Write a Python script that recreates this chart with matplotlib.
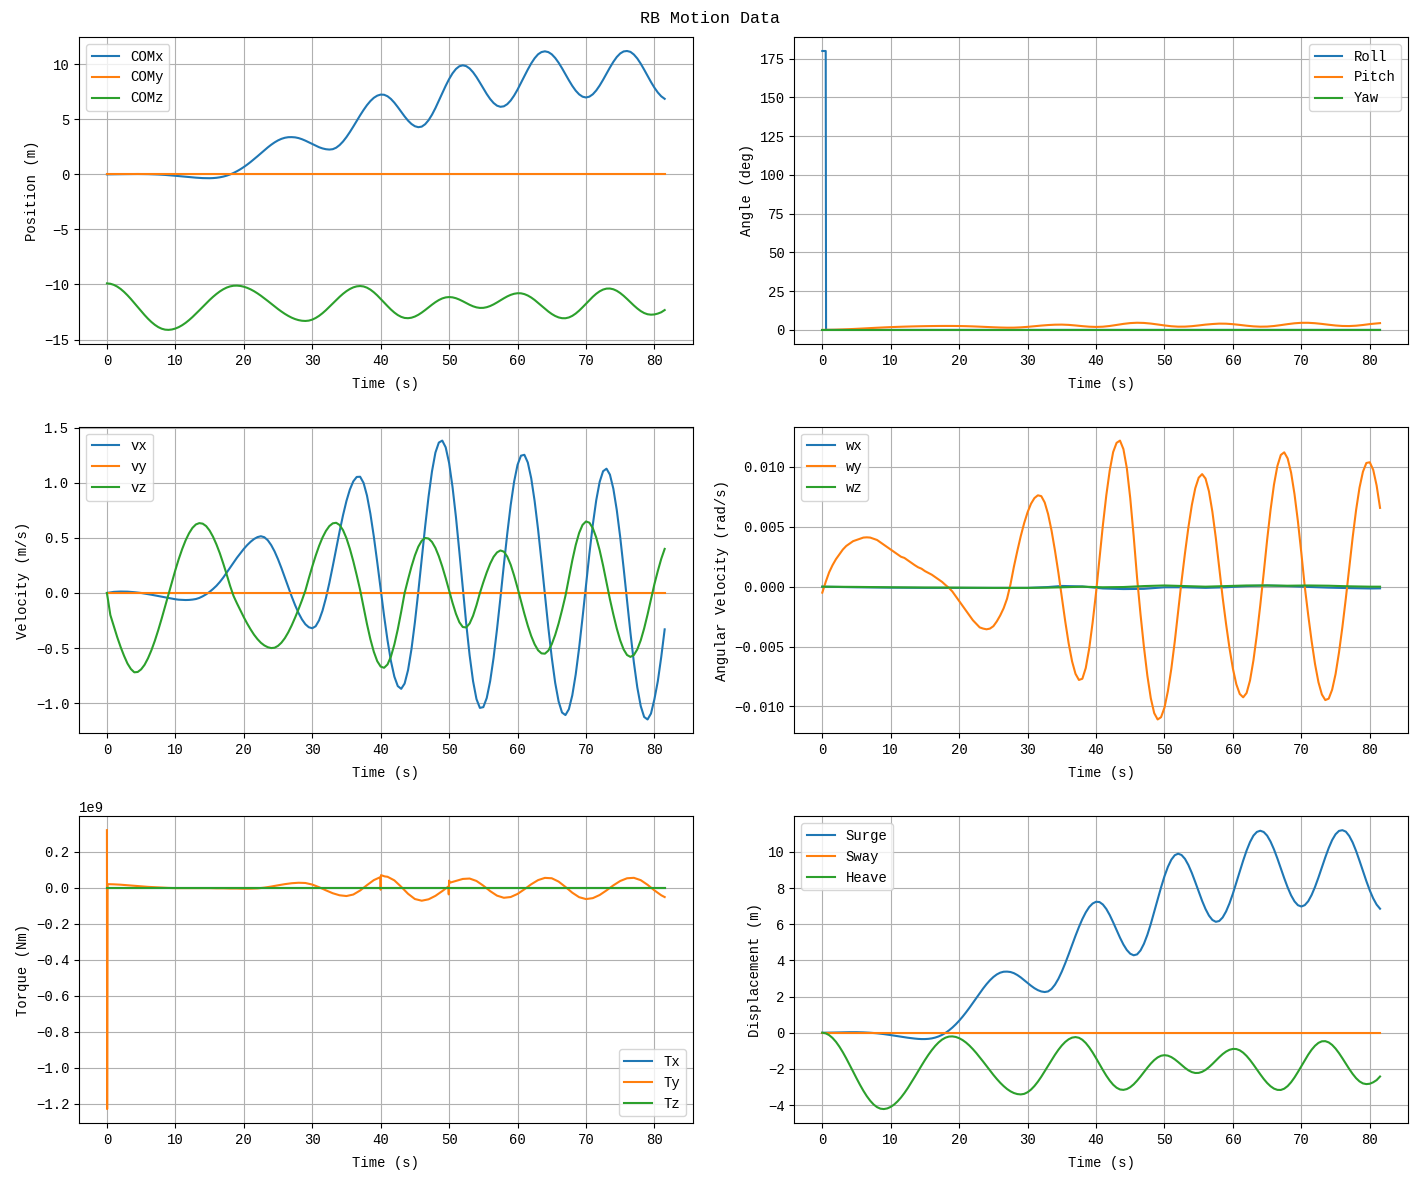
import numpy as np
import matplotlib
matplotlib.use("Agg")
import matplotlib.pyplot as plt

plt.rcParams['font.family'] = ['Liberation Mono', 'DejaVu Sans']
plt.rcParams['font.size'] = 10

# ---------------- data ----------------
# sample time grids
t_fine = np.arange(0, 82, 0.5)                      # 0 .. 81.5 s, 0.5 s step
t_coarse = np.append(np.arange(0, 82, 1.0), 81.5)   # 0 .. 81 s plus 81.5 s
t_const = [0.0, 81.5]

com_x = [0.0, 0.002, 0.005, 0.01, 0.015, 0.02, 0.025, 0.028, 0.03, 0.031,
         0.03, 0.026, 0.02, 0.011, 0.0, -0.014, -0.03, -0.051, -0.075, -0.101,
         -0.13, -0.16, -0.19, -0.22, -0.25, -0.276, -0.30, -0.322, -0.34, -0.35,
         -0.35, -0.338, -0.312, -0.267, -0.204, -0.118, -0.008, 0.126, 0.284, 0.464,
         0.665, 0.887, 1.126, 1.379, 1.643, 1.914, 2.184, 2.445, 2.687, 2.902,
         3.083, 3.224, 3.322, 3.374, 3.38, 3.358, 3.294, 3.191, 3.06, 2.909,
         2.752, 2.599, 2.463, 2.355, 2.282, 2.251, 2.285, 2.42, 2.658, 2.982,
         3.383, 3.842, 4.337, 4.852, 5.362, 5.845, 6.285, 6.657, 6.95, 7.145,
         7.242, 7.227, 7.091, 6.845, 6.508, 6.107, 5.679, 5.257, 4.878, 4.574,
         4.369, 4.283, 4.333, 4.55, 4.918, 5.415, 6.014, 6.68, 7.365, 8.037,
         8.652, 9.172, 9.568, 9.816, 9.9, 9.826, 9.612, 9.27, 8.833, 8.33,
         7.804, 7.293, 6.841, 6.479, 6.236, 6.134, 6.178, 6.373, 6.705, 7.154,
         7.694, 8.295, 8.913, 9.519, 10.074, 10.543, 10.9, 11.104, 11.17, 11.1,
         10.9, 10.57, 10.14, 9.636, 9.09, 8.544, 8.035, 7.598, 7.263, 7.052,
         6.98, 7.055, 7.27, 7.616, 8.065, 8.585, 9.143, 9.70, 10.215, 10.654,
         10.975, 11.16, 11.2, 11.12, 10.88, 10.52, 10.05, 9.51, 8.945, 8.385,
         7.87, 7.43, 7.085, 6.857]
com_y = [0.0, 0.0]
com_z = [-9.9, -9.932, -10.031, -10.189, -10.403, -10.67, -10.977, -11.316, -11.677, -12.046,
         -12.417, -12.773, -13.106, -13.405, -13.661, -13.867, -14.014, -14.099, -14.12, -14.084,
         -13.999, -13.869, -13.694, -13.481, -13.232, -12.956, -12.657, -12.347, -12.03, -11.716,
         -11.409, -11.123, -10.862, -10.629, -10.434, -10.279, -10.172, -10.112, -10.102, -10.132,
         -10.201, -10.305, -10.442, -10.61, -10.805, -11.02, -11.252, -11.493, -11.742, -11.989,
         -12.23, -12.456, -12.666, -12.851, -13.012, -13.14, -13.234, -13.291, -13.31, -13.28,
         -13.189, -13.042, -12.846, -12.606, -12.332, -12.034, -11.725, -11.416, -11.118, -10.844,
         -10.604, -10.408, -10.261, -10.17, -10.14, -10.178, -10.289, -10.467, -10.705, -10.988,
         -11.304, -11.634, -11.961, -12.272, -12.546, -12.774, -12.939, -13.037, -13.059, -13.015,
         -12.91, -12.752, -12.55, -12.321, -12.075, -11.832, -11.606, -11.413, -11.265, -11.172,
         -11.14, -11.167, -11.246, -11.369, -11.52, -11.684, -11.843, -11.979, -12.077, -12.126,
         -12.12, -12.061, -11.954, -11.806, -11.63, -11.441, -11.253, -11.081, -10.941, -10.843,
         -10.794, -10.801, -10.872, -11.002, -11.183, -11.407, -11.662, -11.93, -12.198, -12.453,
         -12.677, -12.858, -12.989, -13.059, -13.064, -12.993, -12.849, -12.638, -12.374, -12.07,
         -11.748, -11.422, -11.115, -10.841, -10.619, -10.46, -10.374, -10.366, -10.434, -10.573,
         -10.775, -11.026, -11.311, -11.611, -11.906, -12.178, -12.413, -12.591, -12.702, -12.74,
         -12.72, -12.64, -12.52, -12.32]

t_roll = [0.0, 0.5, 0.55, 81.5]
roll = [180.0, 180.0, 0.0, 0.0]
pitch = [0.0, 0.02, 0.12, 0.275, 0.467, 0.68, 0.91, 1.146, 1.375, 1.587,
         1.776, 1.942, 2.089, 2.215, 2.318, 2.402, 2.468, 2.514, 2.535, 2.528,
         2.482, 2.39, 2.253, 2.075, 1.875, 1.679, 1.516, 1.415, 1.432, 1.622,
         1.949, 2.358, 2.773, 3.122, 3.343, 3.395, 3.218, 2.848, 2.41, 2.055,
         1.901, 2.047, 2.514, 3.18, 3.863, 4.383, 4.598, 4.474, 4.07, 3.483,
         2.86, 2.348, 2.076, 2.101, 2.391, 2.864, 3.389, 3.769, 4.037, 3.984,
         3.679, 3.206, 2.692, 2.273, 2.062, 2.129, 2.495, 3.069, 3.706, 4.249,
         4.559, 4.566, 4.304, 3.846, 3.309, 2.825, 2.517, 2.464, 2.693, 3.151,
         3.723, 4.15, 4.35]
yaw = [0.0, 0.0]

vx = [0.000, 0.005, 0.010, 0.012, 0.013, 0.013, 0.012, 0.010, 0.007, 0.004,
      0.000, -0.005, -0.010, -0.016, -0.022, -0.028, -0.034, -0.040, -0.046, -0.052,
      -0.057, -0.061, -0.063, -0.064, -0.063, -0.060, -0.055, -0.045, -0.030, -0.012,
      0.010, 0.036, 0.065, 0.100, 0.140, 0.185, 0.230, 0.275, 0.320, 0.360,
      0.400, 0.435, 0.465, 0.490, 0.507, 0.515, 0.506, 0.479, 0.435, 0.377,
      0.306, 0.226, 0.141, 0.054, -0.032, -0.111, -0.182, -0.240, -0.284, -0.311,
      -0.320, -0.302, -0.248, -0.161, -0.046, 0.091, 0.243, 0.402, 0.559, 0.706,
      0.835, 0.939, 1.013, 1.053, 1.055, 0.999, 0.884, 0.718, 0.512, 0.279,
      0.033, -0.208, -0.429, -0.618, -0.759, -0.845, -0.870, -0.822, -0.700, -0.510,
      -0.267, 0.012, 0.310, 0.604, 0.875, 1.104, 1.274, 1.365, 1.383, 1.322,
      1.180, 0.962, 0.689, 0.373, 0.043, -0.278, -0.566, -0.800, -0.963, -1.043,
      -1.036, -0.953, -0.800, -0.588, -0.329, -0.044, 0.254, 0.539, 0.798, 1.010,
      1.163, 1.246, 1.254, 1.184, 1.041, 0.833, 0.577, 0.287, -0.016, -0.315,
      -0.586, -0.815, -0.984, -1.085, -1.108, -1.055, -0.929, -0.739, -0.498, -0.223,
      0.068, 0.356, 0.620, 0.842, 1.008, 1.105, 1.128, 1.074, 0.946, 0.753,
      0.508, 0.227, -0.069, -0.362, -0.631, -0.857, -1.026, -1.125, -1.148, -1.094,
      -0.964, -0.800, -0.580, -0.330]
vy = [0.0, 0.0]
vz = [0.000, -0.200, -0.300, -0.400, -0.490, -0.570, -0.640, -0.690, -0.720, -0.717,
      -0.693, -0.652, -0.593, -0.520, -0.434, -0.337, -0.232, -0.122, -0.011, 0.101,
      0.208, 0.309, 0.399, 0.478, 0.542, 0.591, 0.622, 0.634, 0.629, 0.607,
      0.567, 0.511, 0.441, 0.360, 0.267, 0.168, 0.064, -0.027, -0.094, -0.158,
      -0.220, -0.278, -0.331, -0.379, -0.419, -0.452, -0.476, -0.492, -0.500, -0.497,
      -0.480, -0.451, -0.410, -0.357, -0.294, -0.223, -0.147, -0.066, 0.022, 0.133,
      0.239, 0.338, 0.427, 0.503, 0.563, 0.607, 0.632, 0.637, 0.617, 0.570,
      0.497, 0.401, 0.288, 0.161, 0.027, -0.129, -0.282, -0.420, -0.534, -0.619,
      -0.668, -0.679, -0.649, -0.577, -0.468, -0.330, -0.170, 0.000, 0.123, 0.239,
      0.340, 0.420, 0.474, 0.499, 0.494, 0.463, 0.409, 0.333, 0.240, 0.135,
      0.023, -0.089, -0.189, -0.266, -0.309, -0.313, -0.277, -0.207, -0.111, 0.000,
      0.097, 0.187, 0.266, 0.328, 0.368, 0.386, 0.375, 0.330, 0.256, 0.158,
      0.046, -0.072, -0.189, -0.297, -0.391, -0.466, -0.520, -0.548, -0.551, -0.523,
      -0.465, -0.381, -0.277, -0.156, -0.026, 0.135, 0.295, 0.435, 0.545, 0.618,
      0.649, 0.638, 0.588, 0.503, 0.388, 0.249, 0.095, -0.057, -0.195, -0.322,
      -0.430, -0.512, -0.563, -0.580, -0.563, -0.512, -0.430, -0.322, -0.195, -0.057,
      0.080, 0.200, 0.310, 0.400]

t_wsmall = [0, 5, 10, 15, 20, 25, 30, 33, 35, 38, 41, 44, 47, 50, 53, 56, 59,
            62, 65, 68, 71, 74, 77, 80, 81.5]
wx = [0.0, -0.00005, -0.00008, -0.0001, -0.0001, -0.0001, -0.0001, -0.00003,
      0.00006, 0.00002, -0.00015, -0.0002, -0.00018, -0.00005, -0.00005, -0.0001,
      -0.00005, 0.00005, 0.0001, 0.00005, -0.00002, -0.00008, -0.00012, -0.00015,
      -0.00014]
wy = [-0.0005, 0.0004, 0.0012, 0.0018, 0.0023, 0.0027, 0.0031, 0.0034, 0.0036, 0.0038,
      0.0039, 0.0040, 0.0041, 0.00412, 0.0041, 0.0040, 0.0039, 0.0037, 0.0035, 0.0033,
      0.0031, 0.0029, 0.0027, 0.0025, 0.0024, 0.0022, 0.0020, 0.0018, 0.00162, 0.0015,
      0.0013, 0.00115, 0.0010, 0.0008, 0.0006, 0.0004, 0.00014, -0.0001, -0.0004, -0.0008,
      -0.0012, -0.0016, -0.0020, -0.0024, -0.0028, -0.0031, -0.0034, -0.0035, -0.00356, -0.0035,
      -0.0033, -0.0029, -0.0024, -0.0018, -0.0010, 0.0002, 0.00167, 0.00299, 0.00422, 0.00531,
      0.00622, 0.00693, 0.0074, 0.00763, 0.00756, 0.00703, 0.00605, 0.00468, 0.00301, 0.00116,
      -0.00085, -0.0029, -0.00474, -0.00624, -0.00728, -0.00779, -0.00769, -0.00679, -0.00517, -0.0030,
      -0.00051, 0.00234, 0.00513, 0.00763, 0.0097, 0.01124, 0.01201, 0.0122, 0.01149, 0.0099,
      0.00738, 0.00422, 0.00072, -0.00231, -0.00504, -0.00743, -0.00931, -0.01056, -0.01109, -0.0109,
      -0.0101, -0.00872, -0.00686, -0.0046, -0.0021, 0.00048, 0.00281, 0.00497, 0.00682, 0.00822,
      0.0091, 0.0094, 0.00903, 0.00796, 0.00626, 0.00408, 0.00157, -0.0009, -0.00311, -0.00513,
      -0.00685, -0.00815, -0.00896, -0.00924, -0.00888, -0.00783, -0.00615, -0.00401, -0.00154, 0.00113,
      0.0039, 0.00641, 0.00852, 0.01008, 0.0110, 0.01122, 0.01071, 0.00953, 0.00773, 0.00545,
      0.00281, 0.0, -0.00235, -0.00454, -0.00646, -0.00798, -0.0090, -0.00947, -0.00935, -0.0086,
      -0.0073, -0.0055, -0.00336, -0.00098, 0.00158, 0.00412, 0.0064, 0.00827, 0.0096, 0.01033,
      0.01039, 0.00976, 0.00845, 0.00658]
wz = [0.0, -0.00002, -0.00005, -0.00007, -0.00008, -0.0001, -0.0001, -0.00008,
      -0.00005, 0.0, -0.00005, -0.00003, 0.00005, 0.0001, 0.00005, 0.0, 0.00005,
      0.0001, 0.0001, 0.00008, 0.0001, 0.00008, 0.00003, 0.0, 0.0]

tx = [0.0, 0.0]
tz = [0.0, 0.0]
# (time s, torque in units of 1e9 Nm)
ty_points = [(0, 0.32), (0.03, -1.23), (0.1, 0.02), (1, 0.019), (2, 0.017), (3, 0.014),
             (4, 0.011), (5, 0.008), (6, 0.005), (7, 0.003), (8, 0.001), (9, -0.001),
             (10, -0.002), (11, -0.002), (12, -0.002), (13, -0.002), (14, -0.002),
             (15, -0.002), (16, -0.003), (17, -0.003), (18, -0.004), (19, -0.004),
             (20, -0.005), (21, -0.005), (22, -0.0035), (23, 0.0006), (24, 0.0067),
             (25, 0.0136), (26, 0.0201), (27, 0.0252), (28, 0.0278), (29, 0.0265),
             (30, 0.0178), (31, 0.0031), (32, -0.0143), (33, -0.0305), (34, -0.0419),
             (35, -0.046), (36, -0.0377), (37, -0.0152), (38, 0.0146), (39, 0.0425),
             (39.95, 0.059), (40.0, -0.011), (40.05, 0.07), (40.6, 0.063), (41, 0.0611),
             (42, 0.0411), (43, 0.0055), (44, -0.0335), (45, -0.0626), (46, -0.072),
             (47, -0.0642), (48, -0.045), (49, -0.0186), (49.5, -0.0043), (49.9, 0.007),
             (49.95, -0.037), (50.0, 0.04), (50.1, 0.028), (51, 0.038), (52, 0.049),
             (53, 0.0512), (54, 0.0378), (55, 0.0117), (56, -0.0187), (57, -0.0438),
             (58, -0.0557), (59, -0.0515), (60, -0.0343), (61, -0.0085), (62, 0.0194),
             (63, 0.0425), (64, 0.0549), (65, 0.0528), (66, 0.0343), (67, 0.0047),
             (68, -0.0274), (69, -0.0524), (70, -0.0629), (71, -0.0577), (72, -0.0403),
             (73, -0.0147), (74, 0.0133), (75, 0.0376), (76, 0.0527), (77, 0.0552),
             (78, 0.0422), (79, 0.0165), (80, -0.0145), (81, -0.0418), (81.5, -0.0517)]
t_ty = [p[0] for p in ty_points]
ty = np.array([p[1] for p in ty_points]) * 1e9

surge = list(com_x)
sway = [0.0, 0.0]
heave = [0.0, -0.032, -0.131, -0.289, -0.503, -0.77, -1.077, -1.416, -1.777, -2.146,
         -2.517, -2.873, -3.206, -3.505, -3.761, -3.967, -4.114, -4.199, -4.22, -4.184,
         -4.099, -3.969, -3.794, -3.581, -3.332, -3.056, -2.757, -2.447, -2.13, -1.816,
         -1.509, -1.223, -0.962, -0.729, -0.534, -0.379, -0.272, -0.212, -0.202, -0.232,
         -0.301, -0.405, -0.542, -0.71, -0.905, -1.12, -1.352, -1.593, -1.842, -2.089,
         -2.33, -2.556, -2.766, -2.951, -3.112, -3.24, -3.334, -3.391, -3.41, -3.38,
         -3.289, -3.142, -2.946, -2.706, -2.432, -2.134, -1.825, -1.516, -1.218, -0.944,
         -0.704, -0.508, -0.361, -0.27, -0.24, -0.278, -0.389, -0.567, -0.805, -1.088,
         -1.404, -1.734, -2.061, -2.372, -2.646, -2.874, -3.039, -3.137, -3.159, -3.115,
         -3.01, -2.852, -2.65, -2.421, -2.175, -1.932, -1.706, -1.513, -1.365, -1.272,
         -1.24, -1.267, -1.346, -1.469, -1.62, -1.784, -1.943, -2.079, -2.177, -2.226,
         -2.22, -2.161, -2.054, -1.906, -1.73, -1.541, -1.353, -1.181, -1.041, -0.943,
         -0.894, -0.901, -0.972, -1.102, -1.283, -1.507, -1.762, -2.03, -2.298, -2.553,
         -2.777, -2.958, -3.089, -3.159, -3.164, -3.093, -2.949, -2.738, -2.474, -2.17,
         -1.848, -1.522, -1.215, -0.941, -0.719, -0.56, -0.474, -0.466, -0.534, -0.673,
         -0.875, -1.126, -1.411, -1.711, -2.006, -2.278, -2.513, -2.691, -2.802, -2.84,
         -2.82, -2.74, -2.62, -2.42]

# ---------------- figure ----------------
fig, axes = plt.subplots(3, 2, figsize=(14.19, 11.8), dpi=100)
fig.subplots_adjust(left=0.0557, right=0.9922, bottom=0.0483, top=0.9686,
                    wspace=0.166, hspace=0.27)
fig.suptitle('RB Motion Data', fontsize=12, y=0.991, va='top')

ax = axes[0, 0]
ax.plot(t_fine, com_x, label='COMx')
ax.plot(t_const, com_y, label='COMy')
ax.plot(t_fine, com_z, label='COMz')
ax.set_ylabel('Position (m)')
ax.legend(loc='upper left')

ax = axes[0, 1]
ax.plot(t_roll, roll, label='Roll')
ax.plot(t_coarse, pitch, label='Pitch')
ax.plot(t_const, yaw, label='Yaw')
ax.set_ylabel('Angle (deg)')
ax.legend(loc='upper right')

ax = axes[1, 0]
ax.plot(t_fine, vx, label='vx')
ax.plot(t_const, vy, label='vy')
ax.plot(t_fine, vz, label='vz')
ax.set_ylabel('Velocity (m/s)')
ax.legend(loc='upper left')

ax = axes[1, 1]
ax.plot(t_wsmall, wx, label='wx')
ax.plot(t_fine, wy, label='wy')
ax.plot(t_wsmall, wz, label='wz')
ax.set_ylabel('Angular Velocity (rad/s)')
ax.legend(loc='upper left')

ax = axes[2, 0]
ax.plot(t_const, tx, label='Tx')
ax.plot(t_ty, ty, label='Ty')
ax.plot(t_const, tz, label='Tz')
ax.set_ylabel('Torque (Nm)')
ax.legend(loc='lower right')

ax = axes[2, 1]
ax.plot(t_fine, surge, label='Surge')
ax.plot(t_const, sway, label='Sway')
ax.plot(t_fine, heave, label='Heave')
ax.set_ylabel('Displacement (m)')
ax.legend(loc='upper left')

for a in axes.flat:
    a.set_xlabel('Time (s)', labelpad=6.5)
    a.grid(True)

fig.savefig('out.png', dpi=100)
